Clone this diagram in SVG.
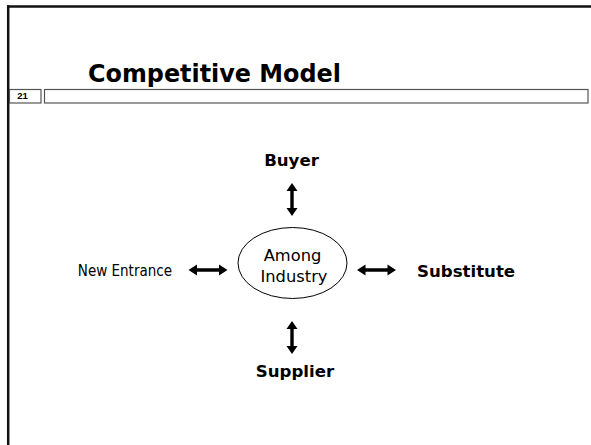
<svg xmlns="http://www.w3.org/2000/svg" width="591" height="445" viewBox="0 0 591 445">
  <style>
    .lbl { font-family: "DejaVu Sans Condensed", "DejaVu Sans", sans-serif; fill: #000; }
    .mid { font-family: "DejaVu Sans", sans-serif; fill: #000; font-size: 16.3px; }
    .bold { font-family: "DejaVu Sans", sans-serif; font-weight: bold; font-size: 16.6px; fill: #000; }
    .frame { stroke: #111; stroke-width: 2.5; fill: none; }
    .box { stroke: #555; stroke-width: 1.2; fill: #fff; }
    .arrow { fill: #000; }
  </style>
  <defs>
    <path id="harrow" d="M-19.5,0 L-11,-5.5 L-11,-1.7 L11,-1.7 L11,-5.5 L19.5,0 L11,5.5 L11,1.7 L-11,1.7 L-11,5.5 Z"/>
    <path id="varrow" d="M0,-16.5 L5.5,-8.5 L1.7,-8.5 L1.7,8.5 L5.5,8.5 L0,16.5 L-5.5,8.5 L-1.7,8.5 L-1.7,-8.5 L-5.5,-8.5 Z"/>
  </defs>
  <rect width="591" height="445" fill="#fff"/>

  <g id="frame">
    <line class="frame" x1="7" y1="6.5" x2="591" y2="6.5"/>
    <line class="frame" x1="8.2" y1="5.3" x2="8.2" y2="445"/>
  </g>

  <g id="title">
    <text x="88" y="82" font-family="'DejaVu Sans', sans-serif" font-weight="bold" font-size="25" textLength="253" lengthAdjust="spacingAndGlyphs" fill="#000">Competitive Model</text>
  </g>

  <g id="header-bar">
    <rect class="box" x="9.5" y="89.5" width="31.5" height="13.5"/>
    <text x="22.5" y="99" font-family="'Liberation Sans', sans-serif" font-weight="bold" font-size="9.5" text-anchor="middle" fill="#000">21</text>
    <rect class="box" x="44.5" y="89.5" width="543.5" height="13.5"/>
  </g>

  <g id="connectors">
    <use href="#varrow" class="arrow" x="292" y="199.5"/>
    <use href="#varrow" class="arrow" x="292" y="337.5"/>
    <use href="#harrow" class="arrow" x="208" y="270"/>
    <use href="#harrow" class="arrow" x="376.5" y="270"/>
  </g>

  <g id="node-industry">
    <ellipse cx="292.5" cy="263" rx="54.5" ry="35.5" fill="#fff" stroke="#000" stroke-width="1"/>
    <text class="mid" x="292.5" y="261" text-anchor="middle">Among</text>
    <text class="mid" x="294" y="282" text-anchor="middle">Industry</text>
  </g>

  <g id="node-buyer">
    <text class="bold" x="291.5" y="166" text-anchor="middle">Buyer</text>
  </g>

  <g id="node-supplier">
    <text class="bold" x="295" y="377" text-anchor="middle">Supplier</text>
  </g>

  <g id="node-new-entrance">
    <text class="lbl" x="172" y="276" font-size="15" text-anchor="end">New Entrance</text>
  </g>

  <g id="node-substitute">
    <text class="bold" x="417" y="277" text-anchor="start" font-size="17.2">Substitute</text>
  </g>
</svg>
